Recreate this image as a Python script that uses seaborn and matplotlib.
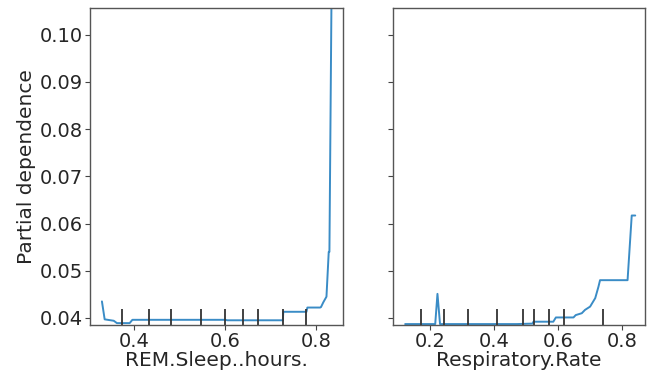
import numpy as np
import seaborn as sns
import matplotlib.pyplot as plt

# partial dependence curves
rem_grid = [0.329, 0.335, 0.355, 0.362, 0.390, 0.396, 0.405, 0.600, 0.605, 0.727,
            0.728, 0.779, 0.781, 0.809, 0.811, 0.816, 0.823, 0.828, 0.8295, 0.834]
rem_pd = [0.0435, 0.0397, 0.0394, 0.0389, 0.0389, 0.0396, 0.0396, 0.0396, 0.0395, 0.0395,
          0.0413, 0.0413, 0.0422, 0.0422, 0.0423, 0.0433, 0.0445, 0.0540, 0.0540, 0.1070]
rem_deciles = [0.373, 0.433, 0.481, 0.547, 0.600, 0.639, 0.673, 0.727, 0.779]

resp_grid = [0.122, 0.216, 0.223, 0.231, 0.471, 0.520, 0.523, 0.585, 0.593, 0.648,
             0.655, 0.674, 0.684, 0.700, 0.716, 0.726, 0.731, 0.817, 0.830, 0.841]
resp_pd = [0.0387, 0.0387, 0.0451, 0.0387, 0.0387, 0.0388, 0.0392, 0.0392, 0.0401, 0.0401,
           0.0406, 0.0410, 0.0417, 0.0424, 0.0442, 0.0466, 0.0480, 0.0480, 0.0617, 0.0617]
resp_deciles = [0.172, 0.244, 0.318, 0.409, 0.490, 0.526, 0.570, 0.617, 0.740]

features = ['REM.Sleep..hours.', 'Respiratory.Rate']

sns.set_style('white')
plt.rcParams['font.family'] = ['DejaVu Sans']

fig = plt.figure(figsize=(6.53, 3.74), dpi=100)
ax1 = fig.add_axes([0.138, 0.131, 0.387, 0.848])
ax2 = fig.add_axes([0.602, 0.131, 0.386, 0.848], sharey=ax1)

for ax, grid, pd_vals, dec, name in [(ax1, rem_grid, rem_pd, rem_deciles, features[0]),
                                      (ax2, resp_grid, resp_pd, resp_deciles, features[1])]:
    sns.lineplot(x=grid, y=pd_vals, ax=ax, color='#3a8cc6', linewidth=1.4,
                 estimator=None, sort=False)
    ax.vlines(dec, 0, 0.05, transform=ax.get_xaxis_transform(), colors='#333333', linewidth=1.3)
    ax.set_xlabel(name, fontsize=14.5, labelpad=0)
    ax.tick_params(labelsize=14, length=3.5, width=0.8, color='#444444', pad=1.5,
                   left=True, bottom=True)
    for s in ax.spines.values():
        s.set_color('#555555')
        s.set_linewidth(1.0)

ax1.set_xlim(0.303, 0.859)
ax1.set_xticks([0.4, 0.6, 0.8])
ax2.set_xlim(0.0844, 0.872)
ax2.set_xticks([0.2, 0.4, 0.6, 0.8])
ax1.set_ylim(0.0385, 0.1057)
ax1.set_yticks([0.04, 0.05, 0.06, 0.07, 0.08, 0.09, 0.10])
ax1.set_ylabel('Partial dependence', fontsize=14.5, labelpad=3)
ax2.tick_params(labelleft=False)

fig.savefig('out.png', dpi=100)
